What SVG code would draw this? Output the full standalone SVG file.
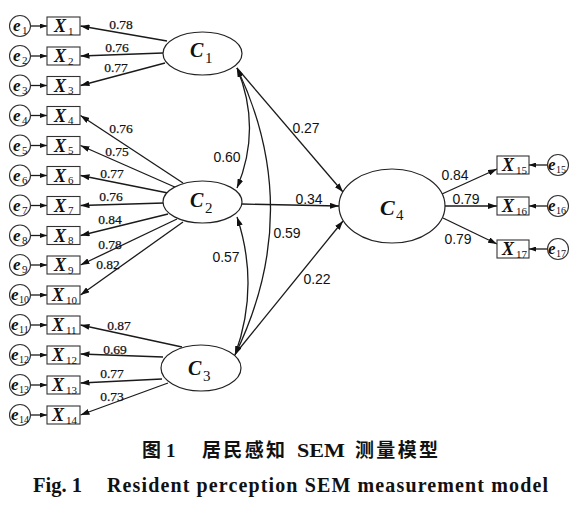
<svg xmlns="http://www.w3.org/2000/svg" width="583" height="512" viewBox="0 0 583 512">
<defs>
<style>
.ln{stroke:#1a1a1a;stroke-width:1.3;fill:none}
.box{fill:#fff;stroke:#333;stroke-width:1.1}
.lat{fill:#fff;stroke:#222;stroke-width:1.2}
.ec{fill:#fff;stroke:#333;stroke-width:1.1}
.t{font-family:"Liberation Serif",serif;fill:#111}
.lv{font-size:20px;font-weight:bold;font-style:italic}
.lv4{font-size:22px;font-weight:bold;font-style:italic}
.ob{font-size:18px;font-weight:bold;font-style:italic}
.eb{font-size:17px;font-weight:bold;font-style:italic}
.sub{font-size:11px}
.sub2{font-size:10px}
.subl{font-size:15px}
.ld{font-size:13.5px;text-anchor:middle;stroke:#111;stroke-width:0.25}
.pa{font-family:"Liberation Sans",Arial,sans-serif;font-size:14px;text-anchor:middle;fill:#111}
.cap{font-family:"Liberation Serif","Noto Sans CJK SC",serif;font-weight:bold;fill:#111}
</style>
<marker id="a" viewBox="0 0 9 6" refX="9" refY="3" markerWidth="9" markerHeight="6" markerUnits="userSpaceOnUse" orient="auto-start-reverse"><path d="M0,0 L9,3 L0,6 z" fill="#111"/></marker>
<marker id="s" viewBox="0 0 7 5" refX="7" refY="2.5" markerWidth="7" markerHeight="5" markerUnits="userSpaceOnUse" orient="auto"><path d="M0,0 L7,2.5 L0,5 z" fill="#111"/></marker>
</defs>
<rect width="583" height="512" fill="#fff"/>

<g id="connectors">
<g class="ln" marker-end="url(#s)">
<line x1="30.5" y1="26" x2="47" y2="26"/>
<line x1="30.5" y1="56" x2="47" y2="56"/>
<line x1="30.5" y1="85.5" x2="47" y2="85.5"/>
<line x1="30.5" y1="115.5" x2="47" y2="115.5"/>
<line x1="30.5" y1="145.5" x2="47" y2="145.5"/>
<line x1="30.5" y1="175.5" x2="47" y2="175.5"/>
<line x1="30.5" y1="205.5" x2="47" y2="205.5"/>
<line x1="30.5" y1="235.5" x2="47" y2="235.5"/>
<line x1="30.5" y1="265" x2="47" y2="265"/>
<line x1="30.5" y1="295" x2="47" y2="295"/>
<line x1="30.5" y1="325" x2="47" y2="325"/>
<line x1="30.5" y1="355" x2="47" y2="355"/>
<line x1="30.5" y1="385" x2="47" y2="385"/>
<line x1="30.5" y1="415" x2="47" y2="415"/>
<line x1="547.5" y1="165" x2="529" y2="165"/>
<line x1="547.5" y1="206" x2="529" y2="206"/>
<line x1="547.5" y1="249" x2="529" y2="249"/>
</g>
<g class="ln" marker-end="url(#a)">
<line x1="167" y1="41" x2="80.5" y2="26"/>
<line x1="163" y1="53" x2="80.5" y2="56"/>
<line x1="165" y1="63" x2="80.5" y2="85.5"/>
<line x1="183" y1="183" x2="80.5" y2="115.5"/>
<line x1="177" y1="188" x2="80.5" y2="145.5"/>
<line x1="168" y1="193" x2="80.5" y2="175.5"/>
<line x1="164" y1="203" x2="80.5" y2="205.5"/>
<line x1="168" y1="214" x2="80.5" y2="235.5"/>
<line x1="177" y1="219" x2="80.5" y2="265"/>
<line x1="183" y1="222" x2="80.5" y2="295"/>
<line x1="182" y1="347" x2="80.5" y2="325"/>
<line x1="163" y1="357" x2="80.5" y2="354"/>
<line x1="162" y1="379" x2="80.5" y2="383"/>
<line x1="168" y1="383" x2="80.5" y2="415"/>
<line x1="442" y1="194" x2="497" y2="169"/>
<line x1="445" y1="206" x2="497" y2="206"/>
<line x1="443" y1="218" x2="497" y2="244"/>
<line x1="237" y1="68" x2="343" y2="192"/>
<line x1="242" y1="204" x2="339" y2="206"/>
<line x1="236" y1="353" x2="343" y2="221"/>
</g>
<g class="ln" marker-start="url(#a)" marker-end="url(#a)">
<path d="M237,68 Q262,128 237,188"/>
<path d="M237,68 Q305,211 235,355"/>
<path d="M237,217 Q260,286 235,355"/>
</g>
</g>

<g class="t ld">
<text x="121" y="29">0.78</text>
<text x="117" y="52">0.76</text>
<text x="116" y="72">0.77</text>
<text x="121" y="133">0.76</text>
<text x="117" y="156">0.75</text>
<text x="112" y="178">0.77</text>
<text x="111" y="201">0.76</text>
<text x="110" y="224">0.84</text>
<text x="110" y="249">0.78</text>
<text x="108" y="269">0.82</text>
<text x="119" y="330">0.87</text>
<text x="115" y="354">0.69</text>
<text x="112" y="378">0.77</text>
<text x="112" y="401">0.73</text>
</g>
<g class="pa">
<text x="227" y="162">0.60</text>
<text x="306" y="133">0.27</text>
<text x="309" y="204">0.34</text>
<text x="287" y="238">0.59</text>
<text x="226" y="262">0.57</text>
<text x="317" y="284">0.22</text>
<text x="455" y="180">0.84</text>
<text x="466" y="204">0.79</text>
<text x="458" y="244">0.79</text>
</g>

<g id="C1"><ellipse class="lat" cx="202.5" cy="53.5" rx="39.5" ry="21.5"/><text class="t lv" x="190" y="57">C</text><text class="t subl" x="205" y="63">1</text></g>
<g id="C2"><ellipse class="lat" cx="202.5" cy="202" rx="39.5" ry="21"/><text class="t lv" x="190" y="207">C</text><text class="t subl" x="205" y="213">2</text></g>
<g id="C3"><ellipse class="lat" cx="201" cy="368" rx="40" ry="23"/><text class="t lv" x="188" y="375">C</text><text class="t subl" x="203" y="381">3</text></g>
<g id="C4"><ellipse class="lat" cx="392" cy="206" rx="53" ry="37"/><text class="t lv4" x="380" y="215">C</text><text class="t subl" x="396" y="220">4</text></g>

<g id="X1"><rect class="box" x="47" y="17" width="33" height="18"/><text class="t ob" x="54" y="32">X</text><text class="t sub" x="68" y="34.5">1</text></g>
<g id="X2"><rect class="box" x="47" y="47" width="33" height="18"/><text class="t ob" x="54" y="62">X</text><text class="t sub" x="68" y="64.5">2</text></g>
<g id="X3"><rect class="box" x="47" y="76.5" width="33" height="18"/><text class="t ob" x="54" y="91.5">X</text><text class="t sub" x="68" y="94">3</text></g>
<g id="X4"><rect class="box" x="47" y="106.5" width="33" height="18"/><text class="t ob" x="54" y="121.5">X</text><text class="t sub" x="68" y="124">4</text></g>
<g id="X5"><rect class="box" x="47" y="136.5" width="33" height="18"/><text class="t ob" x="54" y="151.5">X</text><text class="t sub" x="68" y="154">5</text></g>
<g id="X6"><rect class="box" x="47" y="166.5" width="33" height="18"/><text class="t ob" x="54" y="181.5">X</text><text class="t sub" x="68" y="184">6</text></g>
<g id="X7"><rect class="box" x="47" y="196.5" width="33" height="18"/><text class="t ob" x="54" y="211.5">X</text><text class="t sub" x="68" y="214">7</text></g>
<g id="X8"><rect class="box" x="47" y="226.5" width="33" height="18"/><text class="t ob" x="54" y="241.5">X</text><text class="t sub" x="68" y="244">8</text></g>
<g id="X9"><rect class="box" x="47" y="256" width="33" height="18"/><text class="t ob" x="54" y="271">X</text><text class="t sub" x="68" y="273.5">9</text></g>
<g id="X10"><rect class="box" x="47" y="286" width="33" height="18"/><text class="t ob" x="52" y="301">X</text><text class="t sub" x="66" y="303.5">10</text></g>
<g id="X11"><rect class="box" x="47" y="316" width="33" height="18"/><text class="t ob" x="52" y="331">X</text><text class="t sub" x="66" y="333.5">11</text></g>
<g id="X12"><rect class="box" x="47" y="346" width="33" height="18"/><text class="t ob" x="52" y="361">X</text><text class="t sub" x="66" y="363.5">12</text></g>
<g id="X13"><rect class="box" x="47" y="376" width="33" height="18"/><text class="t ob" x="52" y="391">X</text><text class="t sub" x="66" y="393.5">13</text></g>
<g id="X14"><rect class="box" x="47" y="406" width="33" height="18"/><text class="t ob" x="52" y="421">X</text><text class="t sub" x="66" y="423.5">14</text></g>
<g id="X15"><rect class="box" x="497" y="156" width="32" height="18"/><text class="t ob" x="502" y="171">X</text><text class="t sub" x="516" y="173.5">15</text></g>
<g id="X16"><rect class="box" x="497" y="197" width="32" height="18"/><text class="t ob" x="502" y="212">X</text><text class="t sub" x="516" y="214.5">16</text></g>
<g id="X17"><rect class="box" x="497" y="240" width="32" height="18"/><text class="t ob" x="502" y="255">X</text><text class="t sub" x="516" y="257.5">17</text></g>

<g id="e1"><circle class="ec" cx="20" cy="26" r="10.5"/><text class="t eb" x="13" y="31">e</text><text class="t sub" x="22" y="34">1</text></g>
<g id="e2"><circle class="ec" cx="20" cy="56" r="10.5"/><text class="t eb" x="13" y="61">e</text><text class="t sub" x="22" y="64">2</text></g>
<g id="e3"><circle class="ec" cx="20" cy="85.5" r="10.5"/><text class="t eb" x="13" y="90.5">e</text><text class="t sub" x="22" y="93.5">3</text></g>
<g id="e4"><circle class="ec" cx="20" cy="115.5" r="10.5"/><text class="t eb" x="13" y="120.5">e</text><text class="t sub" x="22" y="123.5">4</text></g>
<g id="e5"><circle class="ec" cx="20" cy="145.5" r="10.5"/><text class="t eb" x="13" y="150.5">e</text><text class="t sub" x="22" y="153.5">5</text></g>
<g id="e6"><circle class="ec" cx="20" cy="175.5" r="10.5"/><text class="t eb" x="13" y="180.5">e</text><text class="t sub" x="22" y="183.5">6</text></g>
<g id="e7"><circle class="ec" cx="20" cy="205.5" r="10.5"/><text class="t eb" x="13" y="210.5">e</text><text class="t sub" x="22" y="213.5">7</text></g>
<g id="e8"><circle class="ec" cx="20" cy="235.5" r="10.5"/><text class="t eb" x="13" y="240.5">e</text><text class="t sub" x="22" y="243.5">8</text></g>
<g id="e9"><circle class="ec" cx="20" cy="265" r="10.5"/><text class="t eb" x="13" y="270">e</text><text class="t sub" x="22" y="273">9</text></g>
<g id="e10"><circle class="ec" cx="20" cy="295" r="10.5"/><text class="t eb" x="11" y="300">e</text><text class="t sub2" x="19" y="303">10</text></g>
<g id="e11"><circle class="ec" cx="20" cy="325" r="10.5"/><text class="t eb" x="11" y="330">e</text><text class="t sub2" x="19" y="333">11</text></g>
<g id="e12"><circle class="ec" cx="20" cy="355" r="10.5"/><text class="t eb" x="11" y="360">e</text><text class="t sub2" x="19" y="363">12</text></g>
<g id="e13"><circle class="ec" cx="20" cy="385" r="10.5"/><text class="t eb" x="11" y="390">e</text><text class="t sub2" x="19" y="393">13</text></g>
<g id="e14"><circle class="ec" cx="20" cy="415" r="10.5"/><text class="t eb" x="11" y="420">e</text><text class="t sub2" x="19" y="423">14</text></g>
<g id="e15"><circle class="ec" cx="558" cy="165" r="10.5"/><text class="t eb" x="548" y="170">e</text><text class="t sub2" x="556" y="173">15</text></g>
<g id="e16"><circle class="ec" cx="558" cy="206" r="10.5"/><text class="t eb" x="548" y="211">e</text><text class="t sub2" x="556" y="214">16</text></g>
<g id="e17"><circle class="ec" cx="558" cy="249" r="10.5"/><text class="t eb" x="548" y="254">e</text><text class="t sub2" x="556" y="257">17</text></g>

<g class="cap" font-size="19">
<text x="142" y="457">图</text>
<text x="166" y="457">1</text>
<text x="202" y="457" textLength="83" lengthAdjust="spacing">居民感知</text>
<text x="297" y="457" textLength="48" lengthAdjust="spacingAndGlyphs">SEM</text>
<text x="355" y="457" textLength="83" lengthAdjust="spacing">测量模型</text>
</g>
<g class="cap" font-size="20">
<text x="33" y="492" textLength="49" lengthAdjust="spacingAndGlyphs">Fig. 1</text>
<text x="107" y="492" textLength="441" lengthAdjust="spacing">Resident perception SEM measurement model</text>
</g>
</svg>
